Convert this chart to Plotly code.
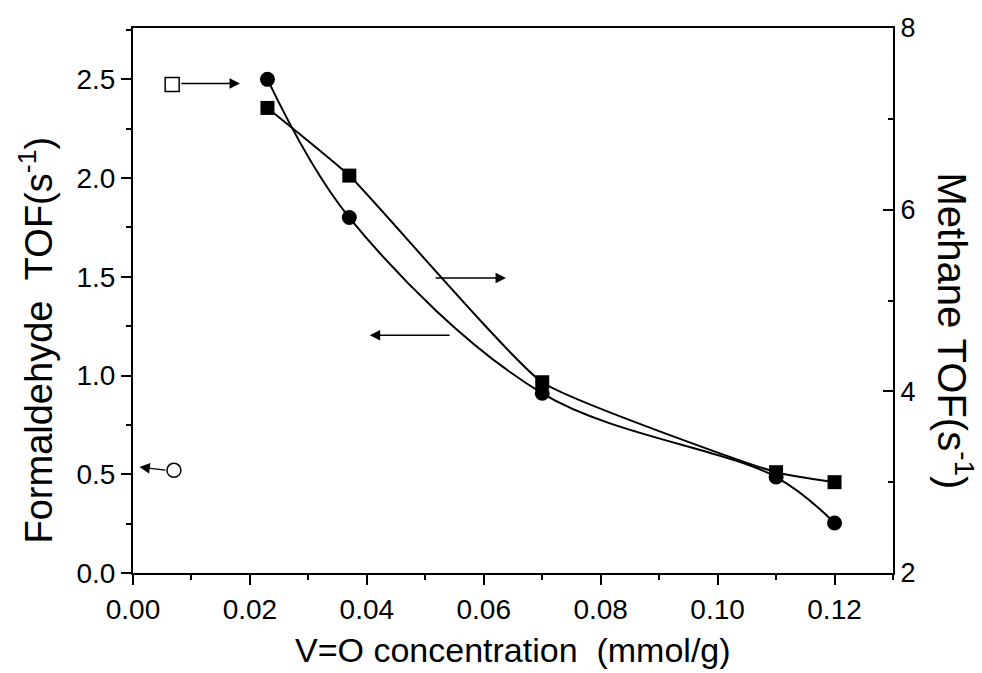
import plotly.graph_objects as go

# ---- data ----
vo_conc = [0.023, 0.037, 0.070, 0.110, 0.120]          # V=O concentration (mmol/g)
formaldehyde_tof = [2.50, 1.80, 0.91, 0.486, 0.253]    # left axis, circles
methane_tof = [7.12, 6.375, 4.10, 3.11, 3.00]          # right axis, squares

# indicator symbols (open markers) in left-axis units
open_square_xy = [0.0067, 2.474]
open_circle_xy = [0.0070, 0.52]

# arrow annotations: [tail_x, tail_y, tip_x, tip_y] in left-axis units
arrow_square = [0.0080, 2.479, 0.0183, 2.479]
arrow_circle = [0.0058, 0.52, 0.0011, 0.537]
arrow_mid_right = [0.0515, 1.494, 0.0638, 1.494]
arrow_mid_left = [0.0544, 1.204, 0.0405, 1.204]

x_ticks = [0.00, 0.02, 0.04, 0.06, 0.08, 0.10, 0.12]
yl_ticks = [0.0, 0.5, 1.0, 1.5, 2.0, 2.5]
yr_ticks = [2, 4, 6, 8]

FONT = "Liberation Sans, Arial, sans-serif"

fig = go.Figure()

fig.add_trace(go.Scatter(
    x=vo_conc, y=formaldehyde_tof, mode="lines+markers",
    line=dict(color="black", width=2, shape="spline", smoothing=1.0),
    marker=dict(symbol="circle", size=15, color="black"),
    yaxis="y", showlegend=False))

fig.add_trace(go.Scatter(
    x=vo_conc, y=methane_tof, mode="lines+markers",
    line=dict(color="black", width=2, shape="spline", smoothing=0.4),
    marker=dict(symbol="square", size=14, color="black"),
    yaxis="y2", showlegend=False))

fig.add_trace(go.Scatter(
    x=[open_square_xy[0]], y=[open_square_xy[1]], mode="markers",
    marker=dict(symbol="square-open", size=14, color="black", line=dict(width=1.5)),
    yaxis="y", showlegend=False))
fig.add_trace(go.Scatter(
    x=[open_circle_xy[0]], y=[open_circle_xy[1]], mode="markers",
    marker=dict(symbol="circle-open", size=14, color="black", line=dict(width=1.5)),
    yaxis="y", showlegend=False))

annotations = []
for a in [arrow_square, arrow_circle, arrow_mid_right, arrow_mid_left]:
    annotations.append(dict(
        x=a[2], y=a[3], ax=a[0], ay=a[1], xref="x", yref="y", axref="x", ayref="y",
        text="", showarrow=True, arrowhead=2, arrowsize=1.6, arrowwidth=1.3,
        arrowcolor="black", standoff=0, startstandoff=0))

annotations.append(dict(
    text="V=O concentration  (mmol/g)", x=0.5, y=0, xref="paper", yref="paper",
    xanchor="center", yanchor="middle", yshift=-77, showarrow=False,
    font=dict(family=FONT, size=34, color="black")))
annotations.append(dict(
    text="Formaldehyde  TOF(s<sup>-1</sup>)", x=0, y=0.5, xref="paper", yref="paper",
    xanchor="center", yanchor="middle", xshift=-97, yshift=-40, textangle=-90,
    showarrow=False, font=dict(family=FONT, size=38, color="black")))
annotations.append(dict(
    text="Methane TOF(s<sup>-1</sup>)", x=1, y=0.5, xref="paper", yref="paper",
    xanchor="center", yanchor="middle", xshift=62, yshift=-30, textangle=90,
    showarrow=False, font=dict(family=FONT, size=40, color="black")))

fig.update_layout(
    width=982, height=673,
    margin=dict(l=133, r=89, t=28, b=100),
    paper_bgcolor="white", plot_bgcolor="white",
    font=dict(family=FONT, size=28, color="black"),
    showlegend=False,
    annotations=annotations,
    xaxis=dict(
        range=[0, 0.13], tickvals=x_ticks, tickformat=".2f",
        showgrid=False, zeroline=False, showline=True, linecolor="black", linewidth=2,
        mirror=True, ticks="outside", ticklen=10, tickwidth=2, tickcolor="black",
        minor=dict(dtick=0.01, tick0=0, ticks="outside", ticklen=5, tickwidth=2, tickcolor="black"),
        tickfont=dict(size=28)),
    yaxis=dict(
        range=[0, 2.76], tickvals=yl_ticks, tickformat=".1f",
        showgrid=False, zeroline=False, showline=True, linecolor="black", linewidth=2,
        ticks="outside", ticklen=10, tickwidth=2, tickcolor="black",
        minor=dict(dtick=0.25, tick0=0, ticks="outside", ticklen=5, tickwidth=2, tickcolor="black"),
        tickfont=dict(size=28)),
    yaxis2=dict(
        range=[2, 8.0], tickvals=yr_ticks, overlaying="y", side="right", anchor="x",
        showgrid=False, zeroline=False, showline=True, linecolor="black", linewidth=2,
        ticks="inside", ticklen=10, tickwidth=2, tickcolor="black",
        minor=dict(dtick=1, tick0=0, ticks="inside", ticklen=5, tickwidth=2, tickcolor="black"),
        tickfont=dict(size=27)),
)

fig.write_html("out.html")
